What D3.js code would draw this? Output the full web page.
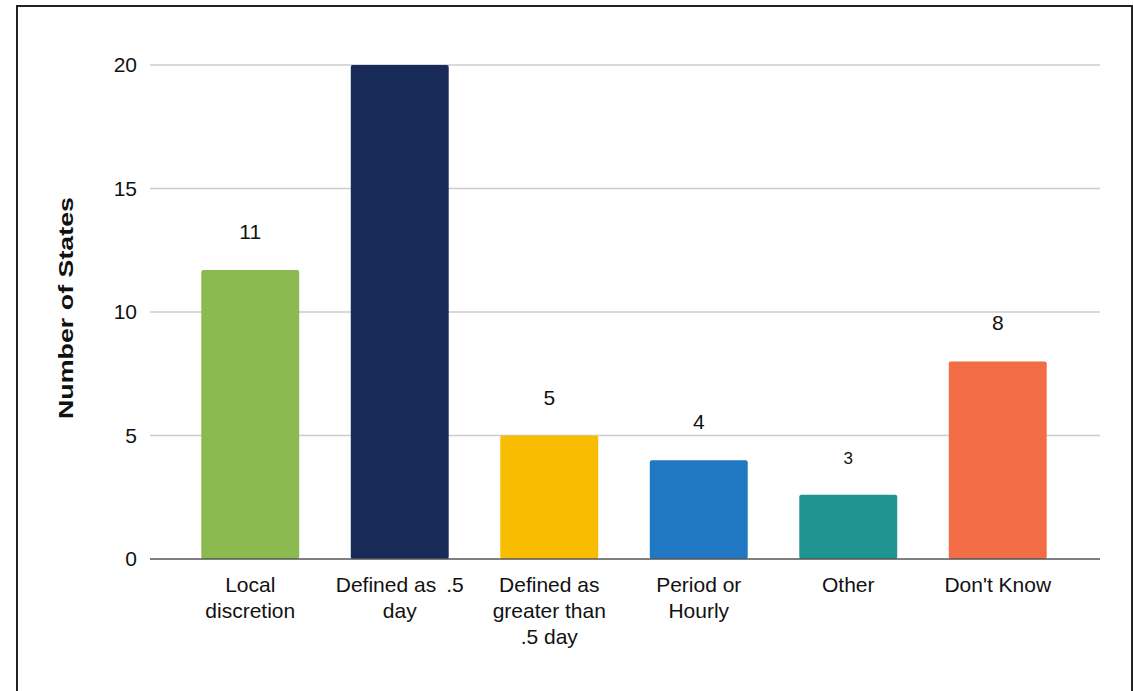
<!DOCTYPE html>
<html>
<head>
<meta charset="utf-8">
<script src="https://cdn.jsdelivr.net/npm/d3@7"></script>
<style>
  body { margin: 0; background: #fff; }
  svg text { font-family: "Liberation Sans", Arial, sans-serif; fill: #111; }
</style>
</head>
<body>
<div id="chart"></div>
<script>
var categories = [
  ["Local", "discretion"],
  ["Defined as\u2009 .5", "day"],
  ["Defined as", "greater than", ".5 day"],
  ["Period or", "Hourly"],
  ["Other"],
  ["Don't Know"]
];
var values = [11.7, 20, 5, 4, 2.6, 8];
var valueLabels = ["11", "", "5", "4", "3", "8"];
var colors = ["#8BBB50", "#182A58", "#F8BC00", "#1F78C1", "#1F9490", "#F26C45"];
var yTicks = [0, 5, 10, 15, 20];

var width = 1133, height = 691;

var svg = d3.select("#chart").append("svg")
  .attr("width", width)
  .attr("height", height);

// outer frame
svg.append("rect")
  .attr("x", 17).attr("y", 6)
  .attr("width", 1115).attr("height", 700)
  .attr("fill", "none")
  .attr("stroke", "#222")
  .attr("stroke-width", 2);

var x = d3.scaleBand()
  .domain(d3.range(categories.length))
  .range([175.5, 1072.5])
  .paddingInner(0.345)
  .paddingOuter(0.1725);

var y = d3.scaleLinear()
  .domain([0, 20])
  .range([559, 65]);

// gridlines
svg.append("g")
  .selectAll("line")
  .data(yTicks.filter(function(d) { return d > 0; }))
  .join("line")
    .attr("x1", 150).attr("x2", 1100)
    .attr("y1", function(d) { return y(d); })
    .attr("y2", function(d) { return y(d); })
    .attr("stroke", "#cccccc")
    .attr("stroke-width", 1.5);

// y axis labels
var yAxis = svg.append("g")
  .attr("transform", "translate(137,0)")
  .call(d3.axisLeft(y).tickValues(yTicks).tickSize(0).tickPadding(0));
yAxis.select(".domain").remove();
yAxis.selectAll("text")
  .style("font-size", "21px")
  .attr("fill", "#111");

// bars
svg.append("g")
  .selectAll("rect")
  .data(values)
  .join("rect")
    .attr("x", function(d, i) { return x(i); })
    .attr("y", function(d) { return y(d); })
    .attr("width", x.bandwidth())
    .attr("height", function(d) { return y(0) - y(d); })
    .attr("rx", 2)
    .attr("fill", function(d, i) { return colors[i]; });

// zero line
svg.append("line")
  .attr("x1", 150).attr("x2", 1100)
  .attr("y1", y(0)).attr("y2", y(0))
  .attr("stroke", "#555")
  .attr("stroke-width", 1.5);

// value labels
svg.append("g")
  .selectAll("text")
  .data(values)
  .join("text")
    .attr("x", function(d, i) { return x(i) + x.bandwidth() / 2; })
    .attr("y", function(d) { return y(d) - 31; })
    .attr("text-anchor", "middle")
    .style("font-size", function(d, i) { return valueLabels[i] === "3" ? "17px" : "21px"; })
    .text(function(d, i) { return valueLabels[i]; });

// category labels
var cat = svg.append("g")
  .selectAll("text")
  .data(categories)
  .join("text")
    .attr("x", function(d, i) { return x(i) + x.bandwidth() / 2; })
    .attr("y", 592)
    .attr("text-anchor", "middle")
    .style("font-size", "21px")
    .style("white-space", "pre");
cat.selectAll("tspan")
  .data(function(d) { return d; })
  .join("tspan")
    .attr("x", function() { return d3.select(this.parentNode).attr("x"); })
    .attr("dy", function(d, j) { return j === 0 ? 0 : 26; })
    .text(function(d) { return d; });

// y axis title
svg.append("text")
  .attr("transform", "translate(73,308) rotate(-90)")
  .attr("text-anchor", "middle")
  .attr("textLength", 222)
  .attr("lengthAdjust", "spacingAndGlyphs")
  .style("font-size", "20px")
  .style("font-weight", "bold")
  .text("Number of States");
</script>
</body>
</html>
